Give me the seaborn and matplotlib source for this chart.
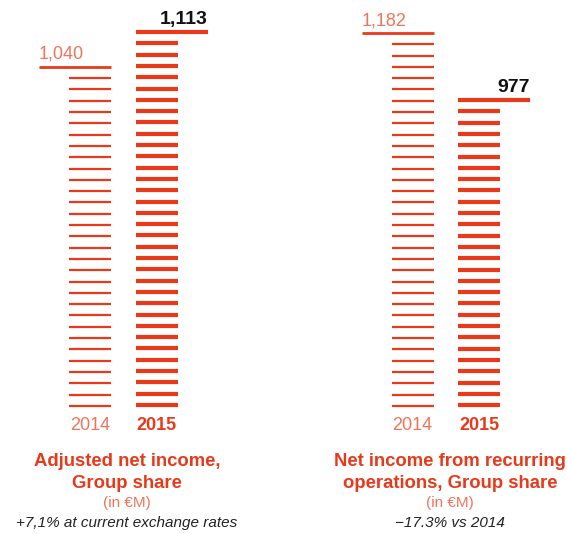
import numpy as np
import pandas as pd
import seaborn as sns
import matplotlib.pyplot as plt

# data
years = ["2014", "2015"]
adjusted_net_income = [1040, 1113]
recurring_net_income = [1182, 977]
value_labels_left = ["1,040", "1,113"]
value_labels_right = ["1,182", "977"]
titles = [["Adjusted net income,", "Group share"],
          ["Net income from recurring", "operations, Group share"]]
unit_label = "(in €M)"
subtitles = ["+7,1% at current exchange rates", "\u221217.3% vs 2014"]

RED = "#E8391B"
LIGHT = "#F0745C"

sns.set_theme(style="white")
plt.rcParams['font.family'] = ['Liberation Sans', 'DejaVu Sans']

fig = plt.figure(figsize=(5.67, 5.34), dpi=100)
W, H = 567, 534
ax_bottom_px, ax_top_px = 406, 32

panels = [
    dict(vals=adjusted_net_income, labels=value_labels_left, left=0, width=283,
         ylim=(330, 1113), first_center=90, title=titles[0], sub=subtitles[0], tx=127),
    dict(vals=recurring_net_income, labels=value_labels_right, left=283, width=284,
         ylim=(41, 1185), first_center=412.5, title=titles[1], sub=subtitles[1], tx=450),
]

px_per_cat = 66.5
half_w = 21 / px_per_cat
ext = 30 / px_per_cat
stripe_px = 11.3

for p in panels:
    ax = fig.add_axes([p["left"] / W, (H - ax_bottom_px) / H, p["width"] / W,
                       (ax_bottom_px - ax_top_px) / H])
    x0 = (p["left"] - p["first_center"]) / px_per_cat
    ax.set_xlim(x0, x0 + p["width"] / px_per_cat)
    lo, hi = p["ylim"]
    ax.set_ylim(lo, hi)
    step = stripe_px * (hi - lo) / (ax_bottom_px - ax_top_px)

    # stripes under each value, down to the floor
    rows = []
    for i, (yr, v) in enumerate(zip(years, p["vals"])):
        for y in np.arange(v - step, lo - 0.3 * step, -step):
            rows.append(dict(year=yr, pos=i, y=y))
    df = pd.DataFrame(rows)

    for i, (yr, v, lab) in enumerate(zip(years, p["vals"], p["labels"])):
        d = df[df["year"] == yr]
        lw = 1.6 if i == 0 else 3.0
        ax.hlines(d["y"], i - half_w, i + half_w, color=RED, lw=lw, clip_on=False)
        if i == 0:
            ax.hlines(v, i - half_w - ext, i + half_w, color=RED, lw=2.0, clip_on=False)
            ax.text(i - half_w - ext, v + step * 0.35, lab, ha="left", va="bottom",
                    color=LIGHT, fontsize=13, clip_on=False)
        else:
            ax.hlines(v, i - half_w, i + half_w + ext, color=RED, lw=3.0, clip_on=False)
            ax.text(i + half_w + ext, v + step * 0.35, lab, ha="right", va="bottom",
                    color="#111111", fontsize=14, fontweight="bold", clip_on=False)
        ax.text(i, lo - step * 1.75, yr, ha="center", va="center",
                color=LIGHT if i == 0 else RED, fontsize=13,
                fontweight="normal" if i == 0 else "bold", clip_on=False)
    ax.axis("off")

    tx = p["tx"] / W
    fig.text(tx, 1 - 462 / H, p["title"][0], ha="center", va="center", color=RED,
             fontsize=13.3, fontweight="bold")
    fig.text(tx, 1 - 484 / H, p["title"][1], ha="center", va="center", color=RED,
             fontsize=13.3, fontweight="bold")
    fig.text(tx, 1 - 503 / H, unit_label, ha="center", va="center", color=LIGHT,
             fontsize=11)
    fig.text(tx, 1 - 523 / H, p["sub"], ha="center", va="center", color="#222222",
             fontsize=11, style="italic")

fig.savefig("out.png", dpi=100)
